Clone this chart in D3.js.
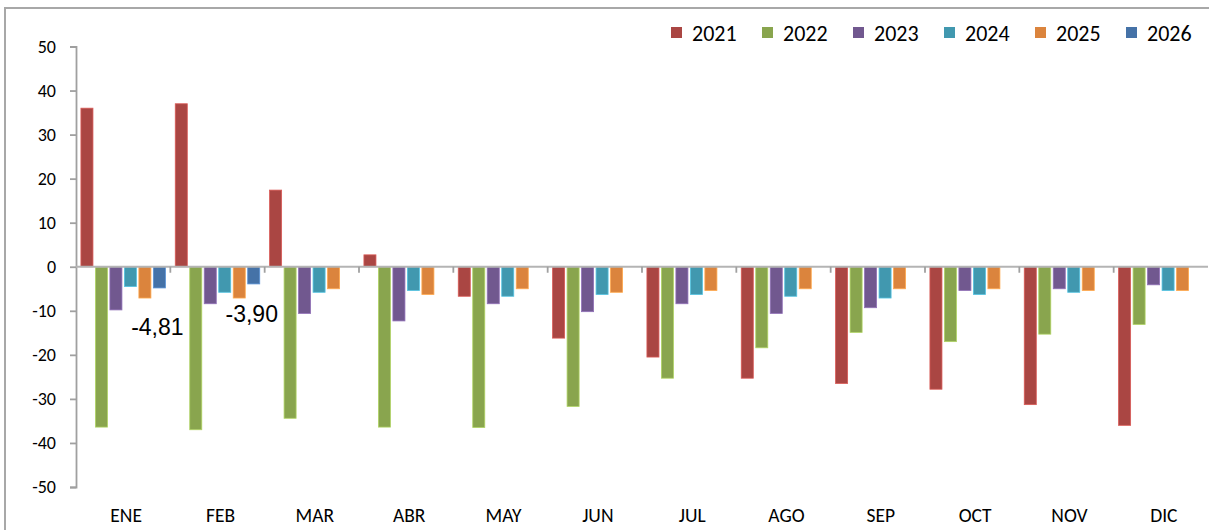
<!DOCTYPE html>
<html>
<head>
<meta charset="utf-8">
<script src="https://cdn.jsdelivr.net/npm/d3@7"></script>
<style>
  html, body { margin: 0; padding: 0; background: #fff; }
  svg { display: block; }
</style>
</head>
<body>
<div id="chart"></div>
<script>
// Svg defs
let w = 1209,
    h = 530;

// Data defs
let months = ["ENE", "FEB", "MAR", "ABR", "MAY", "JUN", "JUL", "AGO", "SEP", "OCT", "NOV", "DIC"];
let years = ["2021", "2022", "2023", "2024", "2025", "2026"];
let colors = ["#AA4643", "#89A54E", "#71588F", "#4198AF", "#DB843D", "#4572A7"];
let yTicks = [50, 40, 30, 20, 10, 0, -10, -20, -30, -40, -50];

let v2021 = [36.0, 37.0, 17.4, 2.7, -6.7, -16.2, -20.5, -25.3, -26.5, -27.8, -31.3, -36.0];
let v2022 = [-36.4, -37.0, -34.4, -36.4, -36.5, -31.7, -25.3, -18.4, -14.9, -17.0, -15.3, -13.1];
let v2023 = [-9.8, -8.4, -10.6, -12.3, -8.4, -10.2, -8.4, -10.6, -9.3, -5.4, -5.0, -4.1];
let v2024 = [-4.5, -5.8, -5.8, -5.4, -6.7, -6.3, -6.3, -6.7, -7.1, -6.3, -5.8, -5.4];
let v2025 = [-7.1, -7.1, -5.0, -6.3, -5.0, -5.8, -5.4, -5.0, -5.0, -5.0, -5.4, -5.4];
let v2026 = [-4.81, -3.90];

let seriesValues = [v2021, v2022, v2023, v2024, v2025, v2026];

// flatten into month/year rows
let rows = [];
years.forEach((yr, i) => {
  seriesValues[i].forEach((v, j) => rows.push({ month: months[j], year: yr, value: v }));
});

let font = "Carlito, Calibri, Lato, sans-serif";

let svg = d3.select("#chart")
  .append("svg")
  .attr("width", w)
  .attr("height", h)
  .attr("viewBox", [0, 0, w, h]);

// chart frame
svg.append("rect")
  .attr("x", 5).attr("y", 8)
  .attr("width", w + 20).attr("height", h + 20)
  .attr("fill", "#fff")
  .attr("stroke", "#a8a8a8")
  .attr("stroke-width", 2);

// Scales
let x0 = d3.scaleBand().domain(months).range([76, 1208]).padding(0);
let x1 = d3.scaleBand().domain(years).range([0, x0.bandwidth()])
  .paddingInner(0.17).paddingOuter(0.34);
let y = d3.scaleLinear().domain([-50, 50]).range([487, 46.5]);
let color = d3.scaleOrdinal().domain(years).range(colors);

// Bars
svg.append("g")
  .selectAll("rect")
  .data(rows)
  .join("rect")
  .attr("x", d => x0(d.month) + x1(d.year))
  .attr("width", x1.bandwidth())
  .attr("y", d => y(Math.max(0, d.value)))
  .attr("height", d => Math.abs(y(d.value) - y(0)))
  .attr("fill", d => color(d.year))
  .attr("stroke", d => d3.color(color(d.year)).brighter(0.7).formatHex())
  .attr("stroke-width", 0.8);

// Y axis
let yAxis = svg.append("g")
  .attr("transform", `translate(${x0.range()[0]},0)`)
  .call(d3.axisLeft(y).tickValues(yTicks).tickSize(6).tickPadding(14).tickFormat(d3.format("d")));
yAxis.select(".domain").attr("stroke", "#a0a0a0").attr("stroke-width", 1.8);
yAxis.selectAll(".tick line").attr("stroke", "#a0a0a0").attr("stroke-width", 1.8);
yAxis.selectAll(".tick text")
  .attr("font-family", font)
  .attr("font-size", 18)
  .attr("fill", "#000")
  .text(d => d < 0 ? "-" + Math.abs(d) : d);

// X axis at zero
let xAxis = svg.append("g")
  .attr("transform", `translate(0,${y(0)})`);
xAxis.append("line")
  .attr("x1", x0.range()[0]).attr("x2", x0.range()[1])
  .attr("stroke", "#b4b4b4").attr("stroke-width", 1.8);
xAxis.selectAll("line.tk")
  .data(months.slice(1))
  .join("line")
  .attr("class", "tk")
  .attr("x1", d => x0(d)).attr("x2", d => x0(d))
  .attr("y1", 0).attr("y2", 6)
  .attr("stroke", "#a0a0a0").attr("stroke-width", 1.8);

// Month labels
svg.append("g")
  .selectAll("text")
  .data(months)
  .join("text")
  .attr("x", d => x0(d) + x0.bandwidth() / 2 + 3)
  .attr("y", 521.5)
  .attr("text-anchor", "middle")
  .attr("font-family", font)
  .attr("font-size", 19.5)
  .attr("fill", "#000")
  .text(d => d);

// Data labels for 2026
let labelNudge = [47, 38];
svg.append("g")
  .selectAll("text")
  .data(v2026)
  .join("text")
  .attr("x", (d, i) => x0(months[i]) + x1("2026") + x1.bandwidth() / 2 - 2)
  .attr("y", (d, i) => y(d) + labelNudge[i])
  .attr("text-anchor", "middle")
  .attr("font-family", "'Liberation Sans', Arial, sans-serif")
  .attr("font-size", 23)
  .attr("fill", "#000")
  .text(d => d3.format(".2f")(d).replace("\u2212", "-").replace(".", ","));

// Legend
let legend = svg.append("g")
  .selectAll("g")
  .data(years)
  .join("g")
  .attr("transform", (d, i) => `translate(${671 + i * 91},27)`);
legend.append("rect")
  .attr("width", 11).attr("height", 11)
  .attr("fill", d => color(d));
legend.append("text")
  .attr("x", 21).attr("y", 13.5)
  .attr("font-family", font)
  .attr("font-size", 22)
  .attr("fill", "#000")
  .text(d => d);
</script>
</body>
</html>
